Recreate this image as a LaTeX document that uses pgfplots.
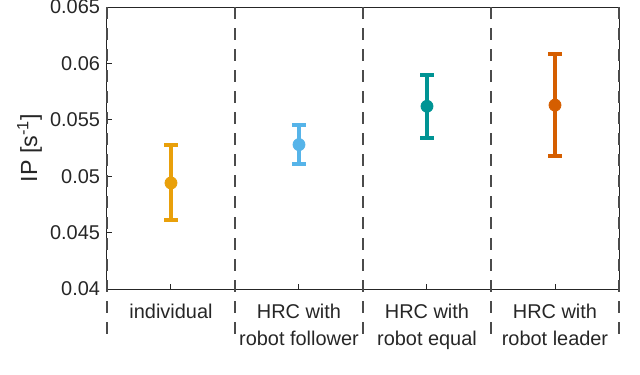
\documentclass[border=0pt]{standalone}
\usepackage{fontspec}
\setmainfont{Liberation Sans}
\usepackage{pgfplots}
\pgfplotsset{compat=1.18}
\definecolor{txt}{RGB}{38,38,38}
\definecolor{axc}{RGB}{38,38,38}
\definecolor{dsh}{RGB}{75,75,75}
\definecolor{cA}{RGB}{233,160,10}
\definecolor{cB}{RGB}{86,180,233}
\definecolor{cC}{RGB}{0,148,148}
\definecolor{cD}{RGB}{213,94,0}
\begin{document}
\begin{tikzpicture}
\begin{axis}[
  at={(0,0)}, anchor=south west,
  scale only axis, width=256bp, height=141bp,
  xmin=0.5, xmax=4.5, ymin=0.04, ymax=0.065,
  clip=false,
  axis line style={axc, line width=0.5bp},
  every tick/.style={axc, line width=0.5bp},
  major tick length=2.5bp,
  tick pos=left,
  xtick={1,2,3,4},
  xticklabels={individual, HRC with\\robot follower, HRC with\\robot equal, HRC with\\robot leader},
  xticklabel style={align=center, font=\fontsize{10}{13.5}\selectfont, text=txt, yshift=-4bp},
  ytick={0.04,0.045,0.05,0.055,0.06,0.065},
  yticklabels={0.04,0.045,0.05,0.055,0.06,0.065},
  yticklabel style={font=\fontsize{10}{12}\selectfont, text=txt},
  scaled y ticks=false,
  ylabel={IP [s\textsuperscript{-1}]},
  every axis y label/.style={at={(axis description cs:-0.1367,0.5)}, rotate=90, anchor=base, font=\fontsize{11.7}{14}\selectfont, text=txt},
  error bars/y dir=both, error bars/y explicit,
  error bars/error mark=-,
  error bars/error bar style={line width=2bp},
  error bars/error mark options={line width=2bp, mark size=3.3bp, rotate=90},
]
\foreach \xx in {0.5,1.5,2.5,3.5,4.5}{
  \edef\tmp{\noexpand\draw[dsh, line width=0.7bp, dash pattern=on 6bp off 4.5bp] (axis cs:\xx,0.065) -- (axis cs:\xx,0.03525);}
  \tmp
}
\addplot[cA, mark=*, mark size=3bp, only marks] table[x=x, y=y, y error plus=ep, y error minus=em] {
x y ep em
1 0.0494 0.0034 0.0033
};
\addplot[cB, mark=*, mark size=3bp, only marks] table[x=x, y=y, y error plus=ep, y error minus=em] {
x y ep em
2 0.0528 0.0017 0.0017
};
\addplot[cC, mark=*, mark size=3bp, only marks] table[x=x, y=y, y error plus=ep, y error minus=em] {
x y ep em
3 0.0562 0.0028 0.0028
};
\addplot[cD, mark=*, mark size=3bp, only marks] table[x=x, y=y, y error plus=ep, y error minus=em] {
x y ep em
4 0.0563 0.0045 0.0045
};
\end{axis}
\pgfresetboundingbox
\path[use as bounding box] (-53.5bp,-43bp) rectangle (266.5bp,144.5bp);
\end{tikzpicture}
\end{document}
